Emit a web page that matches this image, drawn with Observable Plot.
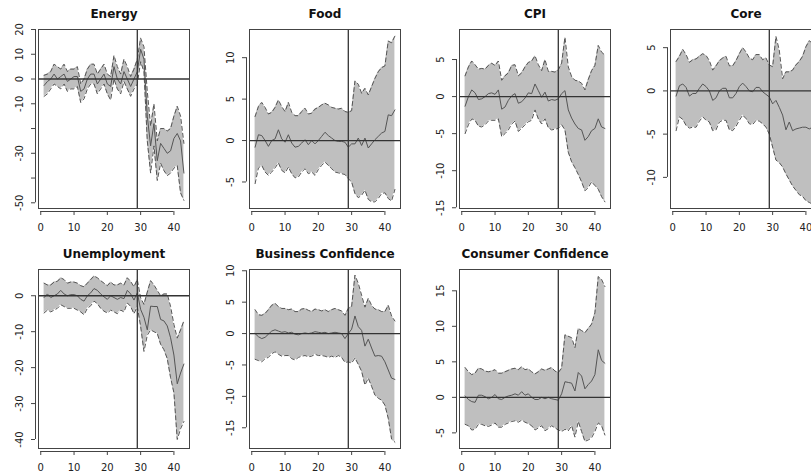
<!DOCTYPE html>
<html>
<head>
<meta charset="utf-8">
<script src="https://cdn.jsdelivr.net/npm/d3@7"></script>
<script src="https://cdn.jsdelivr.net/npm/@observablehq/plot@0.6"></script>
<style>
  html, body { margin: 0; padding: 0; background: #ffffff; }
  #fig { position: relative; width: 811px; height: 474px; overflow: hidden; background: #ffffff; }
  #fig > div { position: absolute; width: 210px; height: 237px; }
  #fig svg { max-width: none !important; display: block; }
</style>
</head>
<body>
<div id="fig"></div>
<script>
// ---------- data ----------
const periods = [1,2,3,4,5,6,7,8,9,10,11,12,13,14,15,16,17,18,19,20,21,22,23,24,25,26,27,28,29,30,31,32,33,34,35,36,37,38,39,40,41,42,43];
const xTicks = [0, 10, 20, 30, 40];
const breakPeriod = 29;

const titles = ["Energy", "Food", "CPI", "Core", "Unemployment", "Business Confidence", "Consumer Confidence"];

const energyMid = [-2.6,-1,0,2,0,1,2,-1,0,1, 1,-5,-4,0,2,2,-2,0,2,-2, -3,5,0,-2,3,0,-3,0,3,12, 8,-15,-27,-18,-33,-26,-28,-30,-29,-24, -22,-25,-38];
const energyHi  = [1.5,2,3,6,5,4,6,3,4,4, 5,-2,0,4,6,6,2,4,6,2, 1,9.5,5,2,8,5,1,4,8,16.5, 13,-5,-19,-10,-25,-20,-20,-21,-20,-15, -11,-15,-26];
const energyLo  = [-7,-6,-4,-2,-3,-4,-2,-5,-4,-4, -3,-9.5,-8,-4,-2,-2,-6,-4,-2,-6, -8.5,0,-4,-6,-1,-4,-7,-4,-2,7, 3,-25,-38,-27,-41,-34,-37,-39,-38,-36, -35,-46,-49];

const foodMid = [-0.8,0.7,0.6,0,-0.7,0,0.2,1.3,0.2,-0.2, 0.7,-0.3,-0.8,-0.7,-0.3,0.1,-0.5,0,-0.4,0, 0.5,1.0,0.6,0.3,0,-0.1,-0.1,-0.2,-0.8,-0.4, -0.4,0.3,-0.6,0.3,-0.9,-0.4,0.1,0.5,0.9,1.1, 3.1,3.0,3.7];
const foodHi  = [2.9,4.1,4.6,4.0,3.2,3.4,4.0,4.9,4.1,3.5, 4.6,3.4,3.0,3.0,3.5,3.9,3.2,3.3,3.8,4.0, 4.3,4.5,4.3,4.0,3.9,3.8,3.9,3.5,3.4,3.6, 7.2,6.8,5.7,6.3,5.5,6.5,7.5,8.3,8.8,9.0, 12.0,11.8,12.6];
const foodLo  = [-5.2,-3.3,-3.0,-3.8,-4.2,-3.8,-3.3,-2.7,-3.6,-3.9, -3.2,-4.0,-4.5,-4.4,-3.8,-3.4,-4.0,-3.8,-4.2,-3.5, -3.0,-2.6,-3.0,-3.4,-3.8,-3.9,-4.0,-4.1,-4.6,-5.0, -6.4,-6.9,-6.6,-6.0,-7.1,-7.4,-7.4,-7.0,-6.4,-6.3, -7.0,-7.3,-5.9];

const cpiMid = [-1.3,0,0.9,0.5,-0.4,-0.3,0,0.4,0.5,0.3, 0.9,-1.7,-1.4,-0.5,0.1,0.4,-0.9,-0.7,-0.2,0.5, 0.4,1.7,0.8,-0.1,0.6,-0.6,-0.4,-0.5,-0.3,0.4, 0.8,-1.8,-2.9,-3.7,-4.3,-4.5,-5.9,-5.4,-4.6,-4.3, -3.0,-4.1,-4.3];
const cpiHi  = [2.8,4.0,4.8,4.3,3.7,3.8,3.7,4.2,4.5,4.2, 4.8,2.2,2.8,3.2,4.2,4.3,2.8,3.2,4.0,4.6, 4.8,5.5,4.3,3.5,5.0,3.4,3.4,3.3,3.6,4.5, 8.0,4.0,2.7,2.2,2.1,1.8,0.9,2.3,3.5,4.2, 6.9,6.0,5.6];
const cpiLo  = [-5.0,-3.8,-3.0,-3.2,-4.0,-4.1,-3.8,-3.3,-3.2,-3.2, -3.0,-5.4,-5.0,-4.5,-3.7,-3.3,-4.7,-4.3,-3.8,-3.4, -3.2,-1.8,-3.0,-3.7,-3.0,-4.2,-4.5,-4.4,-4.3,-3.8, -4.5,-7.5,-8.8,-9.6,-10.5,-11.5,-12.7,-12.3,-11.5,-12.0, -12.5,-13.5,-14.2];

const coreMid = [-0.6,0.6,0.8,0.4,-0.6,-0.3,-0.3,0.3,0.8,0.5, 0,-1.1,-0.8,0,0.3,0.3,-0.8,-0.8,-0.3,0.5, 0.9,0.5,0,-0.1,0.4,0.4,-0.1,-0.4,-0.7,-1.5, -1.1,-1.9,-2.8,-4.5,-3.6,-4.6,-4.4,-4.3,-4.2,-4.2, -4.4,-4.2,-4.3];
const coreHi  = [3.4,4.0,4.8,4.2,3.3,3.6,3.7,4.0,4.3,4.1, 3.5,2.4,2.9,3.5,3.8,4.0,2.9,2.9,3.5,4.3, 5.0,4.5,3.8,3.6,4.2,4.2,3.6,3.8,3.0,2.8, 6.3,4.7,1.4,2.2,2.2,2.4,3.0,3.4,4.0,5.1, 5.8,5.5,5.0];
const coreLo  = [-4.6,-3.0,-3.3,-4.0,-4.3,-4.2,-4.2,-3.5,-3.0,-3.4, -3.6,-4.6,-4.5,-3.6,-3.4,-3.4,-4.5,-4.6,-4.1,-3.4, -2.8,-3.2,-3.8,-3.9,-3.4,-3.5,-3.8,-4.2,-5.0,-6.5, -8.0,-8.3,-8.8,-9.6,-10.3,-11.0,-11.5,-12.0,-12.2,-12.7, -12.9,-13.1,-13.0];

const unempMid = [-0.5,0.5,-0.5,0,0.5,1.5,0.5,0,0.3,0.3, 0,-1.0,-1.5,0,0.8,2.0,1.5,0.5,-0.3,-1.0, 0,-0.5,-1.0,-0.5,-0.8,1.5,0.5,-1.2,0.8,-3.8, -6.0,-9.5,-2.9,-3.0,-3.0,-6.6,-7.0,-8.4,-11.7,-16.5, -24.5,-21.5,-19.0];
const unempHi  = [3.5,3.0,3.0,3.8,4.0,5.0,4.5,3.5,3.8,3.8, 3.5,2.8,2.5,3.5,4.5,5.5,5.0,4.2,3.5,2.8, 3.8,3.0,3.0,3.5,3.0,5.0,4.0,2.5,4.5,-0.6, -2.4,1.0,4.2,3.0,1.5,0,0.5,0.5,-3.0,-8.0, -11.8,-9.5,-7.0];
const unempLo  = [-4.8,-4.0,-4.5,-4.0,-3.5,-2.5,-3.0,-3.5,-3.5,-3.5, -4.0,-4.5,-5.3,-3.5,-2.8,-1.5,-2.2,-3.5,-4.3,-4.8, -4.0,-4.5,-5.0,-4.0,-4.5,-2.0,-3.0,-5.0,-3.0,-8.5, -15.5,-11.0,-9.5,-10.0,-10.5,-13.5,-15.0,-17.5,-22.8,-27.0, -40.0,-37.0,-35.0];

const busMid = [0,-0.5,-0.8,-0.6,-0.1,0.4,0.6,0.4,0.2,0.3, 0.1,0.2,-0.1,-0.2,0,0.1,0,0.1,0.3,0.2, 0.1,0.2,0,0.1,0.2,0.1,0,-0.8,0,0.7, 2.8,1.1,0.5,-2.0,-0.9,-2.3,-3.6,-3.5,-3.6,-4.5, -5.8,-7.1,-7.3];
const busHi  = [3.8,3.0,2.9,3.2,3.8,4.5,4.8,4.3,4.0,4.0, 3.8,3.9,3.5,3.5,3.9,4.0,3.7,3.5,3.9,3.8, 3.6,3.8,3.5,3.8,4.0,3.8,3.6,2.9,4.0,4.3, 9.3,8.0,6.1,4.2,5.6,4.5,3.9,3.8,3.5,3.5, 4.5,2.8,2.0];
const busLo  = [-4.1,-4.3,-4.5,-4.0,-3.8,-3.2,-2.9,-3.3,-3.6,-3.5, -3.5,-4.0,-4.2,-3.8,-3.6,-3.5,-3.7,-3.6,-3.3,-3.5, -3.5,-3.6,-3.8,-3.6,-3.8,-3.5,-3.8,-4.6,-4.5,-4.7, -3.9,-4.9,-6.0,-8.2,-7.1,-8.4,-9.8,-10.3,-10.6,-11.4, -13.5,-16.8,-17.3];

const consMid = [0.2,-0.3,-0.6,-0.7,0.3,0.3,0.1,-0.2,0,0.4, -0.2,-0.3,0,0.2,0.3,0.5,0.3,0.8,0.3,0.5, 0,-0.3,-0.3,0,-0.2,0,-0.2,-0.3,-0.4,0.5, 2.2,2.1,2.0,0.9,3.5,3.0,1.2,1.8,2.3,3.2, 6.7,5.2,4.8];
const consHi  = [4.2,3.6,3.2,3.4,4.1,4.0,3.7,3.6,3.7,3.9, 3.4,3.4,3.6,3.8,4.0,4.1,3.9,4.3,3.9,4.0, 3.6,3.3,3.6,4.0,3.8,4.0,4.2,3.7,3.5,4.1, 8.8,8.6,8.4,7.0,9.7,9.4,9.1,9.7,10.3,11.9, 17.0,16.6,15.6];
const consLo  = [-3.8,-4.0,-4.6,-4.5,-3.8,-3.8,-4.0,-4.1,-3.9,-3.6, -4.2,-4.2,-3.8,-3.6,-3.4,-3.3,-3.5,-3.2,-3.5,-3.7, -4.0,-4.6,-4.3,-4.0,-4.7,-4.4,-4.0,-4.3,-4.6,-4.8, -4.5,-4.7,-4.0,-5.6,-3.4,-4.8,-6.2,-6.0,-5.7,-4.8, -3.6,-4.0,-5.3];

// y-axis domains, tick positions and printed tick labels
const yDomains = [[-52.3, 20.0], [-8.2, 13.4], [-15.1, 9.05], [-13.6, 7.1], [-42.5, 7.3], [-18.3, 10.2], [-7.2, 18.0]];
const yTicks = [[-50,-40,-30,-20,-10,0,10,20], [-5,0,5,10], [-15,-10,-5,0,5], [-10,-5,0,5], [-40,-30,-20,-10,0], [-15,-10,-5,0,5,10], [-5,0,5,10,15]];
const yLabels = [[-50,-30,-10,0,10,20], [-5,0,5,10], [-15,-10,-5,0,5], [-10,-5,0,5], [-40,-30,-20,-10,0], [-15,-10,-5,0,5,10], [-5,0,5,10,15]];

const mids = [energyMid, foodMid, cpiMid, coreMid, unempMid, busMid, consMid];
const his  = [energyHi, foodHi, cpiHi, coreHi, unempHi, busHi, consHi];
const los  = [energyLo, foodLo, cpiLo, coreLo, unempLo, busLo, consLo];

// ---------- drawing ----------
const colLeft = [0, 210.5, 421.3, 632];
const rowTop = [0, 240];
const xDomain = [-0.68, 44.68];
const fig = document.getElementById("fig");

titles.forEach((title, i) => {
  const data = periods.map((p, j) => ({p, mid: mids[i][j], lo: los[i][j], hi: his[i][j]}));
  const yd = yDomains[i];
  const yt = yTicks[i];
  const plot = Plot.plot({
    width: 210,
    height: 237,
    marginLeft: 38,
    marginRight: 21,
    marginTop: 29,
    marginBottom: 29,
    style: {fontFamily: "DejaVu Sans", fontSize: "10px", background: "#ffffff", color: "#222", maxWidth: "none"},
    x: {domain: xDomain, axis: null},
    y: {domain: yd, axis: null},
    marks: [
      Plot.areaY(data, {x: "p", y1: "lo", y2: "hi", fill: "#bfbfbf"}),
      Plot.lineY(data, {x: "p", y: "hi", stroke: "#555", strokeWidth: 1, strokeDasharray: "4,3"}),
      Plot.lineY(data, {x: "p", y: "lo", stroke: "#555", strokeWidth: 1, strokeDasharray: "4,3"}),
      Plot.lineY(data, {x: "p", y: "mid", stroke: "#555", strokeWidth: 1}),
      Plot.ruleY([0], {stroke: "#333", strokeWidth: 1.3}),
      Plot.ruleX([breakPeriod], {stroke: "#333", strokeWidth: 1.3}),
      Plot.frame({stroke: "#444", strokeWidth: 1}),
      // x axis
      Plot.ruleY([yd[0]], {x1: xTicks[0], x2: xTicks[xTicks.length - 1], dy: 3, stroke: "#444"}),
      Plot.axisX({ticks: xTicks, tickSize: 4, dy: 3, tickFormat: () => "", label: null, stroke: "#444"}),
      Plot.text(xTicks, {x: d => d, text: d => String(d), frameAnchor: "bottom", dy: 19, lineAnchor: "middle", fontSize: 10, fill: "#222"}),
      // y axis
      Plot.ruleX([xDomain[0]], {y1: d3.min(yt), y2: d3.max(yt), dx: -3, stroke: "#444"}),
      Plot.axisY({ticks: yt, tickSize: 4, dx: -3, tickFormat: () => "", label: null, stroke: "#444"}),
      Plot.text(yLabels[i], {y: d => d, text: d => String(d), frameAnchor: "left", dx: -18.5, rotate: -90, lineAnchor: "middle", textAnchor: "middle", fontSize: 10, fill: "#222"}),
      // title
      Plot.text([title], {text: d => d, frameAnchor: "top", dy: -15, lineAnchor: "middle", fontSize: 12, fontWeight: "bold", fill: "#111"})
    ]
  });
  const holder = document.createElement("div");
  holder.style.left = colLeft[i % 4] + "px";
  holder.style.top = rowTop[Math.floor(i / 4)] + "px";
  holder.appendChild(plot);
  fig.appendChild(holder);
});
</script>
</body>
</html>
